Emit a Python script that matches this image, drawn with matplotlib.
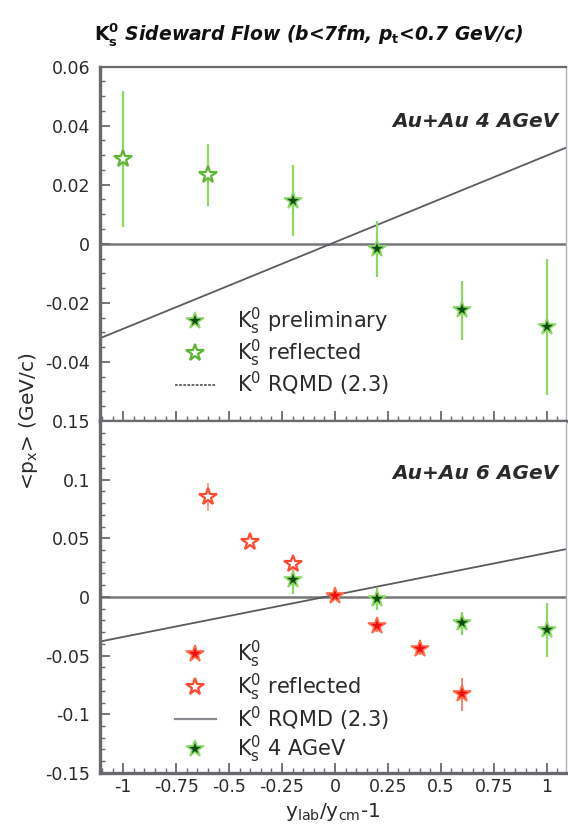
import numpy as np
import matplotlib
matplotlib.use("Agg")
import matplotlib.pyplot as plt
from matplotlib.ticker import FixedLocator, MultipleLocator
from matplotlib.lines import Line2D

plt.rcParams['font.family'] = ['DejaVu Sans']
plt.rcParams['mathtext.fontset'] = 'dejavusans'
plt.rcParams['axes.unicode_minus'] = False

# 4 AGeV, K0s measured points (filled) and reflected ones (open)
x4 = [-0.2, 0.2, 0.6, 1.0]
v4 = [0.0146, -0.0017, -0.0225, -0.0283]
e4 = [0.012, 0.0095, 0.010, 0.023]
x4r = [-1.0, -0.6]
v4r = [0.0287, 0.0233]
e4r = [0.023, 0.0105]

# 6 AGeV
x6 = [0.0, 0.2, 0.4, 0.6]
v6 = [0.001, -0.0245, -0.0446, -0.083]
e6 = [0.004, 0.005, 0.005, 0.014]
x6r = [-0.6, -0.4, -0.2]
v6r = [0.0855, 0.047, 0.028]
e6r = [0.012, 0.004, 0.005]

# RQMD (2.3) straight lines
rq_x = [-1.11, 1.09]
rq4 = [-0.032, 0.0325]
rq6 = [-0.038, 0.0407]

xticks = [-1, -0.75, -0.5, -0.25, 0, 0.25, 0.5, 0.75, 1]
xlabels = ['-1', '-0.75', '-0.5', '-0.25', '0', '0.25', '0.5', '0.75', '1']
yt4 = [-0.04, -0.02, 0, 0.02, 0.04, 0.06]
yl4 = ['-0.04', '-0.02', '0', '0.02', '0.04', '0.06']
yt6 = [-0.15, -0.1, -0.05, 0, 0.05, 0.1, 0.15]
yl6 = ['-0.15', '-0.1', '-0.05', '0', '0.05', '0.1', '0.15']

dkgreen = '#0d4f10'
ltgreen = '#8ad865'
opgreen = '#5db532'
red = '#ee1010'
ltred = '#ff6a4a'
opred = '#ff4a30'
gline = '#5a5a60'
spc = '#6a6a6e'
txt = '#2a2a2a'

fig = plt.figure(figsize=(5.68, 8.32), dpi=100)
ax1 = fig.add_axes([0.176, 0.494, 0.820, 0.426])
ax2 = fig.add_axes([0.176, 0.071, 0.820, 0.423])

star = dict(marker='*', ms=13, ls='none')

# top panel
ax1.axhline(0, color='#777779', lw=1.8, zorder=1)
ax1.plot(rq_x, rq4, color=gline, lw=1.3, zorder=2)
ax1.errorbar(x4r, v4r, yerr=e4r, fmt='none', ecolor=ltgreen, elinewidth=1.6, zorder=3)
ax1.errorbar(x4, v4, yerr=e4, fmt='none', ecolor=ltgreen, elinewidth=1.6, zorder=3)
ax1.plot(x4r, v4r, mfc='white', mec=opgreen, mew=1.6, zorder=4, **star)
ax1.plot(x4, v4, mfc=dkgreen, mec=ltgreen, mew=1.2, zorder=4, **star)
ax1.set_ylim(-0.06, 0.06)
ax1.yaxis.set_major_locator(FixedLocator(yt4))
ax1.set_yticklabels(yl4)
ax1.yaxis.set_minor_locator(MultipleLocator(0.005))
ax1.text(0.985, 0.845, 'Au+Au 4 AGeV', transform=ax1.transAxes, ha='right', va='center',
         fontsize=14.5, fontweight='bold', style='italic', color=txt)

h1 = [Line2D([], [], mfc=dkgreen, mec=ltgreen, mew=1.2, **star),
      Line2D([], [], mfc='white', mec=opgreen, mew=1.6, **star),
      Line2D([], [], color=gline, lw=1.3, ls=(0, (1.5, 0.8)))]
ax1.legend(h1, [r'$\mathrm{K^0_s}$ preliminary', r'$\mathrm{K^0_s}$ reflected', r'$\mathrm{K^0}$ RQMD (2.3)'],
           loc='upper left', bbox_to_anchor=(0.138, 0.354), frameon=False, fontsize=15,
           handlelength=2.0, handletextpad=1.0, labelspacing=0.03, borderpad=0,
           labelcolor=txt)

# bottom panel
ax2.axhline(0, color='#777779', lw=1.8, zorder=1)
ax2.plot(rq_x, rq6, color=gline, lw=1.3, zorder=2)
ax2.errorbar(x4, v4, yerr=e4, fmt='none', ecolor=ltgreen, elinewidth=1.6, zorder=3)
ax2.errorbar(x6r, v6r, yerr=e6r, fmt='none', ecolor='#ffa090', elinewidth=1.4, zorder=3)
ax2.errorbar(x6, v6, yerr=e6, fmt='none', ecolor='#ff8070', elinewidth=1.4, zorder=3)
ax2.plot(x4, v4, mfc=dkgreen, mec=ltgreen, mew=1.2, zorder=4, **star)
ax2.plot(x6r, v6r, mfc='white', mec=opred, mew=1.6, zorder=5, **star)
ax2.plot(x6, v6, mfc=red, mec=ltred, mew=1.2, zorder=5, **star)
ax2.set_ylim(-0.15, 0.15)
ax2.yaxis.set_major_locator(FixedLocator(yt6))
ax2.set_yticklabels(yl6)
ax2.yaxis.set_minor_locator(MultipleLocator(0.01))
ax2.text(0.985, 0.852, 'Au+Au 6 AGeV', transform=ax2.transAxes, ha='right', va='center',
         fontsize=14.5, fontweight='bold', style='italic', color=txt)

h2 = [Line2D([], [], mfc=red, mec=ltred, mew=1.2, **star),
      Line2D([], [], mfc='white', mec=opred, mew=1.6, **star),
      Line2D([], [], color='#8a8a90', lw=1.6),
      Line2D([], [], mfc=dkgreen, mec=ltgreen, mew=1.2, **star)]
ax2.legend(h2, [r'$\mathrm{K^0_s}$', r'$\mathrm{K^0_s}$ reflected', r'$\mathrm{K^0}$ RQMD (2.3)',
                r'$\mathrm{K^0_s}$ 4 AGeV'],
           loc='upper left', bbox_to_anchor=(0.138, 0.41), frameon=False, fontsize=15,
           handlelength=2.0, handletextpad=1.0, labelspacing=0.07, borderpad=0,
           labelcolor=txt)

for ax in (ax1, ax2):
    ax.set_xlim(-1.11, 1.09)
    ax.xaxis.set_major_locator(FixedLocator(xticks))
    ax.xaxis.set_minor_locator(MultipleLocator(0.05))
    ax.tick_params(which='both', direction='in', colors=spc, labelcolor=txt, labelsize=12.5,
                   top=False, right=False)
    ax.tick_params(which='major', length=7, width=1.3)
    ax.tick_params(which='minor', length=3.5, width=1.0)
    ax.tick_params(axis='y', pad=7)
    for s in ax.spines.values():
        s.set_color(spc)
        s.set_linewidth(1.6)
    ax.spines['left'].set_linewidth(2.4)
    ax.spines['bottom'].set_linewidth(2.4)
    ax.spines['right'].set_color('#b0b0b4')
    ax.spines['right'].set_linewidth(1.0)

ax1.tick_params(axis='x', labelbottom=False)
ax2.set_xticklabels(xlabels)
ax2.set_xlabel(r'y$_{\mathrm{lab}}$/y$_{\mathrm{cm}}$-1', fontsize=14.5, color=txt, labelpad=4)
fig.text(0.05, 0.494, r'<p$_\mathrm{x}$> (GeV/c)', rotation=90, ha='center', va='center',
         fontsize=14.5, color=txt)
fig.text(0.543, 0.958, r'$\mathbf{K^0_s}$ Sideward Flow (b<7fm, p$_\mathbf{t}$<0.7 GeV/c)',
         ha='center', va='center', fontsize=13.5, fontweight='bold', style='italic', color='#111111')

fig.savefig('out.png', dpi=100)
